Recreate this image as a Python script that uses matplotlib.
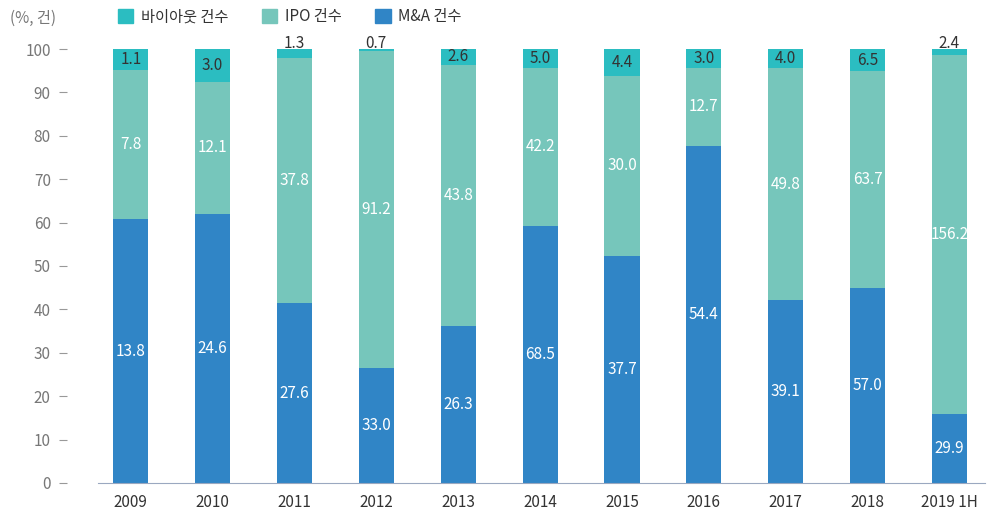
import matplotlib.pyplot as plt
import numpy as np
from matplotlib.patches import Patch

plt.rcParams['font.family'] = ['Noto Sans CJK KR', 'DejaVu Sans']

# data (counts, 건)
years = ['2009', '2010', '2011', '2012', '2013', '2014', '2015', '2016', '2017', '2018', '2019 1H']
mna = [13.8, 24.6, 27.6, 33.0, 26.3, 68.5, 37.7, 54.4, 39.1, 57.0, 29.9]
ipo = [7.8, 12.1, 37.8, 91.2, 43.8, 42.2, 30.0, 12.7, 49.8, 63.7, 156.2]
buyout = [1.1, 3.0, 1.3, 0.7, 2.6, 5.0, 4.4, 3.0, 4.0, 6.5, 2.4]

c_buy = '#2bbdc1'
c_ipo = '#76c6bb'
c_mna = '#3085c6'

mna_a = np.array(mna)
ipo_a = np.array(ipo)
buy_a = np.array(buyout)
tot = mna_a + ipo_a + buy_a
p_mna = mna_a / tot * 100
p_ipo = ipo_a / tot * 100
p_buy = buy_a / tot * 100

fig = plt.figure(figsize=(9.94, 5.11), dpi=100)
ax = fig.add_axes([0.0986, 0.055, 0.892, 0.849])

x = np.arange(len(years))
w = 0.43
ax.bar(x, p_mna, w, color=c_mna)
ax.bar(x, p_ipo, w, bottom=p_mna, color=c_ipo)
ax.bar(x, p_buy, w, bottom=p_mna + p_ipo, color=c_buy)

for i in range(len(years)):
    ax.text(x[i], p_mna[i] / 2, f'{mna[i]:.1f}', ha='center', va='center',
            color='white', fontsize=11)
    ax.text(x[i], p_mna[i] + p_ipo[i] / 2, f'{ipo[i]:.1f}', ha='center', va='center',
            color='white', fontsize=11)
    yb = p_mna[i] + p_ipo[i] + p_buy[i] / 2
    if p_buy[i] < 3:
        yb = 101.3
    ax.text(x[i], yb, f'{buyout[i]:.1f}', ha='center', va='center',
            color='#333333', fontsize=11)

ax.set_xlim(-0.4, 10.43)
ax.set_ylim(0, 100)
ax.set_yticks(range(0, 101, 10))
ax.set_xticks(x)
ax.set_xticklabels(years)

for s in ['top', 'right']:
    ax.spines[s].set_visible(False)
ax.spines['left'].set_position(('outward', 22))
ax.spines['left'].set_visible(False)
ax.spines['bottom'].set_color('#9aa8c0')
ax.tick_params(axis='y', length=6, width=0.8, color='#999999', pad=6,
               labelsize=11, labelcolor='#777777')
ax.tick_params(axis='x', length=0, pad=8, labelsize=11, labelcolor='#333333')

fig.text(0.01, 0.965, '(%, 건)', fontsize=11, color='#777777', va='center')
handles = [Patch(color=c_buy, label='바이아웃 건수'),
           Patch(color=c_ipo, label='IPO 건수'),
           Patch(color=c_mna, label='M&A 건수')]
fig.legend(handles=handles, loc='center left', bbox_to_anchor=(0.105, 0.967),
           ncol=3, frameon=False, fontsize=11, handlelength=1.0, handleheight=1.0,
           columnspacing=2.2, handletextpad=0.5, labelcolor='#333333')

fig.savefig('out.png', dpi=100)
